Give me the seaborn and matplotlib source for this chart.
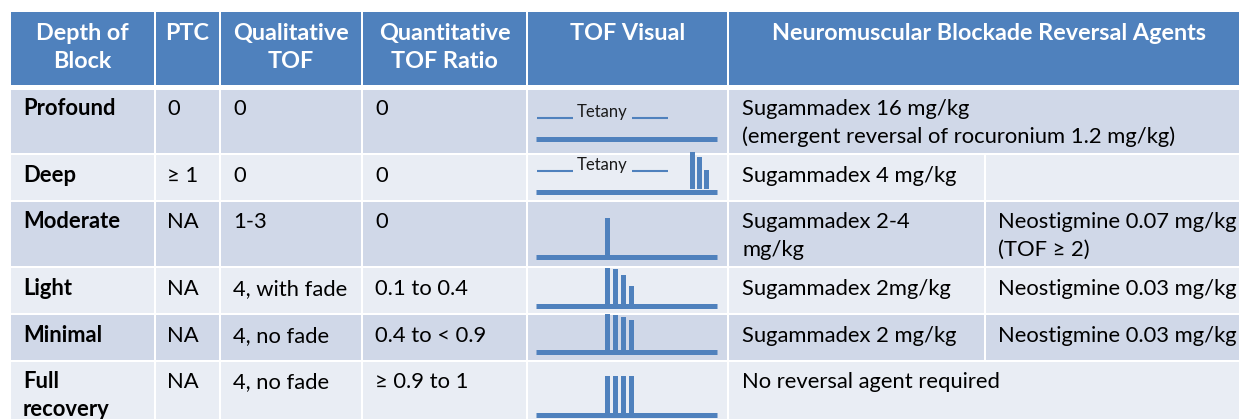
import matplotlib.pyplot as plt
from matplotlib.patches import Rectangle
import seaborn as sns

# table content
headers = [["Depth of", "Block"], ["PTC"], ["Qualitative", "TOF"],
           ["Quantitative", "TOF Ratio"], ["TOF Visual"],
           ["Neuromuscular Blockade Reversal Agents"]]
depth = [["Profound"], ["Deep"], ["Moderate"], ["Light"], ["Minimal"], ["Full", "recovery"]]
ptc = ["0", "≥ 1", "NA", "NA", "NA", "NA"]
qual_tof = ["0", "0", "1-3", "4, with fade", "4, no fade", "4, no fade"]
quant_ratio = ["0", "0", "0", "0.1 to 0.4", "0.4 to < 0.9", "≥ 0.9 to 1"]
sugammadex = [["Sugammadex 16 mg/kg", "(emergent reversal of rocuronium 1.2 mg/kg)"],
              ["Sugammadex 4 mg/kg"], ["Sugammadex 2-4", "mg/kg"],
              ["Sugammadex 2mg/kg"], ["Sugammadex 2 mg/kg"],
              ["No reversal agent required"]]
neostigmine = [None, [""], ["Neostigmine 0.07 mg/kg", "(TOF ≥ 2)"],
               ["Neostigmine 0.03 mg/kg"], ["Neostigmine 0.03 mg/kg"], None]

# TOF visual: tetany flag, post-tetanic twitches, train-of-four twitches (relative height)
tetany = [True, True, False, False, False, False]
post_tetanic = [[], [1.0, 0.89, 0.54], [], [], [], []]
tof_twitches = [[], [], [1.0], [0.97, 0.92, 0.78, 0.46],
                [0.95, 0.92, 0.89, 0.81], [1.0, 1.0, 1.0, 1.0]]

# layout (pixels)
col_x = [10, 155, 220, 362, 527, 728, 985, 1245]
row_y = [89, 154, 201, 267, 314, 361, 430]
head_y = (12, 86)
first_base = [115, 182, 228, 295, 342, 388]
tof_base = [139, 192, 257, 306, 352, 415]
line_gap = 28

HEAD = "#4F81BD"
ROW_A = "#D0D8E8"
ROW_B = "#E9EDF4"
BAR = "#4F81BD"

sns.set_theme(style="white")
plt.rcParams['font.family'] = ['Lato', 'DejaVu Sans']

fig = plt.figure(figsize=(12.39, 4.19), dpi=100)
ax = fig.add_axes([0, 0, 1, 1])
ax.set_xlim(0, 1239)
ax.set_ylim(419, 0)
ax.axis('off')


def cell(x0, x1, y0, y1, color):
    ax.add_patch(Rectangle((x0 + 1, y0 + 1), x1 - x0 - 2, y1 - y0 - 2,
                           facecolor=color, edgecolor='none'))


def lines(x, y, texts, **kw):
    for i, t in enumerate(texts):
        ax.text(x, y + i * line_gap, t, va='baseline', **kw)


# header
for j, h in enumerate(headers):
    x0 = col_x[j]
    x1 = col_x[j + 1] if j < 5 else col_x[-1]
    cell(x0, x1, head_y[0] - 1, head_y[1], HEAD)
    cx = (x0 + x1) / 2 if j < 5 else 989
    lines(cx, 40, h, ha='center', color='white',
          fontsize=16.8, fontweight='bold')

body_kw = dict(fontsize=15.8, color='black')
for i in range(6):
    y0, y1 = row_y[i], row_y[i + 1]
    color = ROW_A if i % 2 == 0 else ROW_B
    for j in range(5):
        cell(col_x[j], col_x[j + 1], y0, y1, color)
    if neostigmine[i] is None:
        cell(col_x[5], col_x[7], y0, y1, color)
    else:
        cell(col_x[5], col_x[6], y0, y1, color)
        cell(col_x[6], col_x[7], y0, y1, color)
        lines(col_x[6] + 13, first_base[i], neostigmine[i], **body_kw)

    b = first_base[i]
    lines(col_x[0] + 13, b, depth[i], fontweight='bold', **body_kw)
    lines(col_x[1] + 12, b, [ptc[i]], **body_kw)
    lines(col_x[2] + 13, b, [qual_tof[i]], **body_kw)
    lines(col_x[3] + 13, b, [quant_ratio[i]], **body_kw)
    lines(col_x[5] + 14, b, sugammadex[i], **body_kw)

    # TOF visual
    cx = col_x[4]
    base = tof_base[i]
    ax.plot([cx + 9, cx + 190], [base, base], color=BAR, lw=3.6,
            solid_capstyle='butt')
    if tetany[i]:
        ty = base - 21
        ax.plot([cx + 10, cx + 46], [ty, ty], color=BAR, lw=1.5, solid_capstyle='butt')
        ax.plot([cx + 105, cx + 141], [ty, ty], color=BAR, lw=1.5, solid_capstyle='butt')
        ax.text(cx + 75, ty - 1, "Tetany", ha='center', va='baseline',
                fontsize=12, color='#1a1a1a')
    full = 37
    for k, h in enumerate(post_tetanic[i]):
        ax.bar(cx + 165.5 + 7 * k, -h * full, bottom=base - 2.5, width=5,
               color=BAR, linewidth=0)
    for k, h in enumerate(tof_twitches[i]):
        ax.bar(cx + 80 + 8 * k, -h * full, bottom=base - 2.5, width=5,
               color=BAR, linewidth=0)

fig.savefig("out.png", dpi=100, facecolor='white')
